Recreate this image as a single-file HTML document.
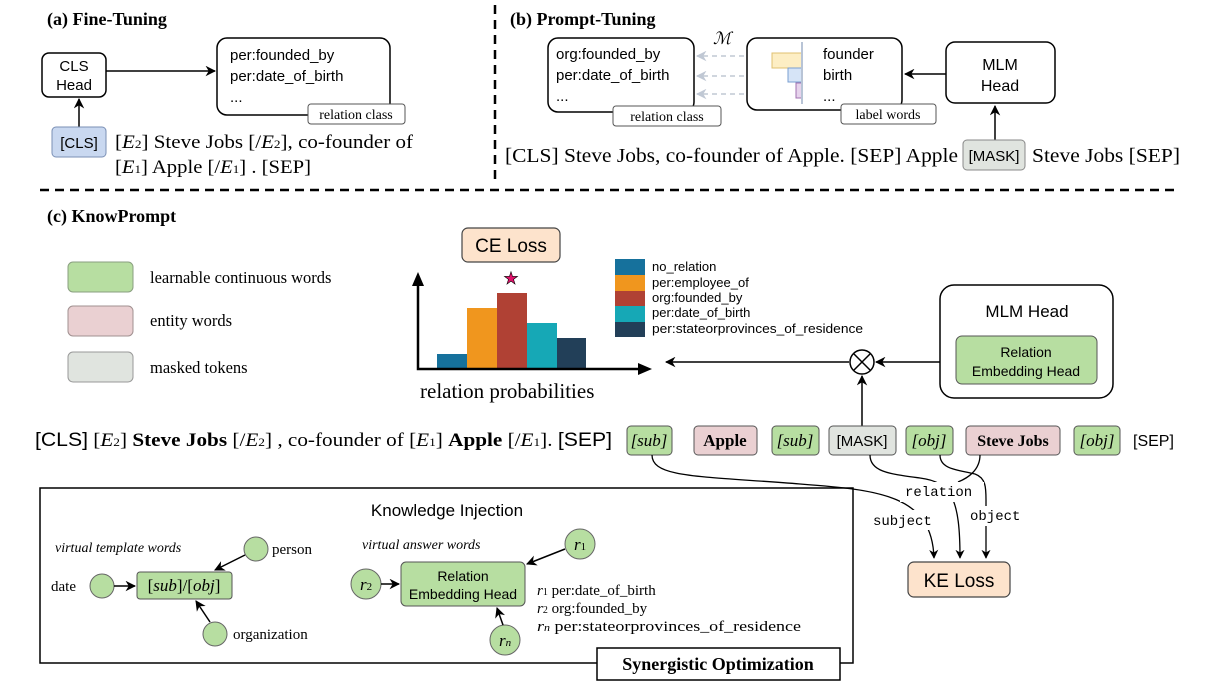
<!DOCTYPE html>
<html><head><meta charset="utf-8"><style>
body{margin:0;background:#fff}
svg{display:block}
.s{font-family:"Liberation Serif",serif}
.a{font-family:"Liberation Sans",sans-serif}
.m{font-family:"Liberation Mono",monospace}
</style></head><body>
<svg width="1206" height="694" viewBox="0 0 1206 694" xmlns="http://www.w3.org/2000/svg">
<defs>
<marker id="ar" viewBox="0 0 10 10" refX="9" refY="5" markerWidth="7" markerHeight="7" orient="auto"><path d="M0,0L10,5L0,10L3,5z" fill="#000"/></marker>
<marker id="ag" viewBox="0 0 10 10" refX="9" refY="5" markerWidth="7" markerHeight="7" orient="auto"><path d="M0,0L10,5L0,10L3,5z" fill="#c0c8d4"/></marker>
</defs>
<line x1="495" y1="5" x2="495" y2="182" stroke="#000" stroke-width="2.5" stroke-dasharray="9,6"/>
<line x1="40" y1="190" x2="1178" y2="190" stroke="#000" stroke-width="2.5" stroke-dasharray="9,6"/>

<!-- (a) -->
<text x="47" y="25" class="s" font-size="18" font-weight="bold">(a) Fine-Tuning</text>
<rect x="42" y="53" width="64" height="44" rx="7" fill="#fff" stroke="#000" stroke-width="1.5"/>
<text x="74" y="71" class="a" font-size="15" text-anchor="middle">CLS</text>
<text x="74" y="90" class="a" font-size="15" text-anchor="middle">Head</text>
<line x1="106" y1="71" x2="215" y2="71" stroke="#000" stroke-width="1.5" marker-end="url(#ar)"/>
<line x1="79" y1="127" x2="79" y2="99" stroke="#000" stroke-width="1.5" marker-end="url(#ar)"/>
<rect x="217" y="38" width="173" height="77" rx="10" fill="#fff" stroke="#000" stroke-width="1.5"/>
<text x="230" y="60" class="a" font-size="15">per:founded_by</text>
<text x="230" y="81" class="a" font-size="15">per:date_of_birth</text>
<text x="230" y="102" class="a" font-size="15">...</text>
<rect x="308" y="104" width="97" height="20" rx="3" fill="#fff" stroke="#555"/>
<text x="356" y="119" class="s" font-size="14" text-anchor="middle">relation class</text>
<rect x="52" y="127" width="54" height="30" rx="4" fill="#c9d8f0" stroke="#7a8fb5"/>
<text x="79" y="148" class="a" font-size="15" text-anchor="middle">[CLS]</text>
<text x="115" y="148" class="s" font-size="19" textLength="298" lengthAdjust="spacingAndGlyphs">[<tspan font-style="italic">E</tspan><tspan font-size="12">2</tspan>] Steve Jobs [/<tspan font-style="italic">E</tspan><tspan font-size="12">2</tspan>], co-founder of</text>
<text x="115" y="173" class="s" font-size="19" textLength="196" lengthAdjust="spacingAndGlyphs">[<tspan font-style="italic">E</tspan><tspan font-size="12">1</tspan>] Apple [/<tspan font-style="italic">E</tspan><tspan font-size="12">1</tspan>] . [SEP]</text>

<!-- (b) -->
<text x="510" y="25" class="s" font-size="18" font-weight="bold">(b) Prompt-Tuning</text>
<rect x="548" y="38" width="146" height="74" rx="10" fill="#fff" stroke="#000" stroke-width="1.5"/>
<text x="556" y="59" class="a" font-size="15">org:founded_by</text>
<text x="556" y="80" class="a" font-size="15">per:date_of_birth</text>
<text x="556" y="101" class="a" font-size="15">...</text>
<rect x="613" y="106" width="108" height="20" rx="3" fill="#fff" stroke="#555"/>
<text x="667" y="121" class="s" font-size="14" text-anchor="middle">relation class</text>
<text x="713" y="44" class="s" font-size="17" font-style="italic">ℳ</text>
<g stroke="#c0c8d4" stroke-width="1.5" stroke-dasharray="5,4">
<line x1="762" y1="56" x2="697" y2="56" marker-end="url(#ag)"/>
<line x1="762" y1="76" x2="697" y2="76" marker-end="url(#ag)"/>
<line x1="762" y1="94" x2="697" y2="94" marker-end="url(#ag)"/>
</g>
<rect x="747" y="38" width="155" height="72" rx="10" fill="#fff" stroke="#000" stroke-width="1.5"/>
<rect x="772" y="53" width="30" height="15" fill="#fdeec4" stroke="#e0c070"/>
<rect x="788" y="68" width="14" height="14" fill="#d6e4f7" stroke="#7a9fd0"/>
<rect x="796" y="83" width="6" height="15" fill="#e6d3ec" stroke="#a070b0"/>
<line x1="802" y1="42" x2="802" y2="104" stroke="#b8c4d6" stroke-width="2"/>
<text x="823" y="59" class="a" font-size="15">founder</text>
<text x="823" y="80" class="a" font-size="15">birth</text>
<text x="823" y="101" class="a" font-size="15">...</text>
<rect x="841" y="104" width="95" height="20" rx="3" fill="#fff" stroke="#555"/>
<text x="888" y="119" class="s" font-size="14" text-anchor="middle">label words</text>
<rect x="946" y="42" width="109" height="61" rx="9" fill="#fff" stroke="#000" stroke-width="1.5"/>
<text x="1000" y="70" class="a" font-size="16" text-anchor="middle">MLM</text>
<text x="1000" y="91" class="a" font-size="16" text-anchor="middle">Head</text>
<line x1="946" y1="74" x2="905" y2="74" stroke="#000" stroke-width="1.5" marker-end="url(#ar)"/>
<line x1="995" y1="140" x2="995" y2="106" stroke="#000" stroke-width="1.5" marker-end="url(#ar)"/>
<rect x="963" y="140" width="62" height="30" rx="4" fill="#e0e4df" stroke="#888"/>
<text x="994" y="161" class="a" font-size="15" text-anchor="middle">[MASK]</text>
<text x="505" y="162" class="s" font-size="20" textLength="453" lengthAdjust="spacingAndGlyphs">[CLS] Steve Jobs, co-founder of Apple. [SEP] Apple</text>
<text x="1032" y="162" class="s" font-size="20" textLength="148" lengthAdjust="spacingAndGlyphs">Steve Jobs [SEP]</text>

<!-- (c) -->
<text x="47" y="222" class="s" font-size="18" font-weight="bold">(c) KnowPrompt</text>
<rect x="68" y="262" width="65" height="30" rx="5" fill="#b7dea1" stroke="#8a9f80"/>
<rect x="68" y="306" width="65" height="30" rx="5" fill="#ead0d2" stroke="#a09090"/>
<rect x="68" y="352" width="65" height="30" rx="5" fill="#e0e4df" stroke="#999"/>
<text x="150" y="283" class="s" font-size="16.5">learnable continuous words</text>
<text x="150" y="326" class="s" font-size="16.5">entity words</text>
<text x="150" y="373" class="s" font-size="16.5">masked tokens</text>

<rect x="462" y="228" width="98" height="34" rx="6" fill="#fde3cc" stroke="#444" stroke-width="1.2"/>
<text x="511" y="252" class="a" font-size="19" text-anchor="middle">CE Loss</text>
<rect x="437" y="354" width="30" height="15" fill="#16719c"/>
<rect x="467" y="308" width="30" height="61" fill="#f0961e"/>
<rect x="497" y="293" width="30" height="76" fill="#b04134"/>
<rect x="527" y="323" width="30" height="46" fill="#16a8b6"/>
<rect x="557" y="338" width="29" height="31" fill="#223f58"/>
<polyline points="418,280 418,369 640,369" fill="none" stroke="#000" stroke-width="2.5"/>
<path d="M412,286 L418,272 L424,286z M638,363 L652,369 L638,375z"/>
<text x="511" y="284" font-size="17" text-anchor="middle" fill="#e0116a" stroke="#000" stroke-width="0.6">★</text>
<rect x="615" y="259" width="30" height="16" fill="#16719c"/>
<rect x="615" y="275" width="30" height="16" fill="#f0961e"/>
<rect x="615" y="291" width="30" height="15" fill="#b04134"/>
<rect x="615" y="306" width="30" height="16" fill="#16a8b6"/>
<rect x="615" y="322" width="30" height="15" fill="#223f58"/>
<g class="a" font-size="13">
<text x="652" y="271">no_relation</text><text x="652" y="287">per:employee_of</text><text x="652" y="302">org:founded_by</text><text x="652" y="317">per:date_of_birth</text><text x="652" y="333" textLength="211" lengthAdjust="spacingAndGlyphs">per:stateorprovinces_of_residence</text>
</g>
<text x="420" y="398" class="s" font-size="21">relation probabilities</text>

<rect x="940" y="285" width="173" height="113" rx="14" fill="#fff" stroke="#000" stroke-width="1.5"/>
<text x="1027" y="317" class="a" font-size="17" text-anchor="middle">MLM Head</text>
<rect x="956" y="336" width="141" height="48" rx="6" fill="#b7dea1" stroke="#555"/>
<text x="1026" y="357" class="a" font-size="14" text-anchor="middle">Relation</text>
<text x="1026" y="376" class="a" font-size="14" text-anchor="middle">Embedding Head</text>
<circle cx="862" cy="362" r="12" fill="#fff" stroke="#000" stroke-width="1.5"/>
<path d="M854,354L870,370M870,354L854,370" stroke="#000" stroke-width="1.5"/>
<line x1="940" y1="362" x2="876" y2="362" stroke="#000" stroke-width="1.5" marker-end="url(#ar)"/>
<line x1="849" y1="362" x2="666" y2="362" stroke="#000" stroke-width="1.5" marker-end="url(#ar)"/>
<line x1="862" y1="426" x2="862" y2="376" stroke="#000" stroke-width="1.5" marker-end="url(#ar)"/>

<text x="35" y="446" class="s" font-size="19" textLength="577" lengthAdjust="spacingAndGlyphs"><tspan class="a">[CLS]</tspan> [<tspan font-style="italic">E</tspan><tspan font-size="12">2</tspan>] <tspan font-weight="bold">Steve Jobs</tspan> [/<tspan font-style="italic">E</tspan><tspan font-size="12">2</tspan>] , co-founder of  [<tspan font-style="italic">E</tspan><tspan font-size="12">1</tspan>] <tspan font-weight="bold">Apple</tspan> [/<tspan font-style="italic">E</tspan><tspan font-size="12">1</tspan>]. <tspan class="a">[SEP]</tspan></text>
<g stroke="#555">
<rect x="627" y="426" width="45" height="29" rx="4" fill="#b7dea1"/>
<rect x="694" y="426" width="63" height="29" rx="4" fill="#ead0d2"/>
<rect x="772" y="426" width="47" height="29" rx="4" fill="#b7dea1"/>
<rect x="829" y="426" width="67" height="29" rx="4" fill="#e0e4df"/>
<rect x="906" y="426" width="47" height="29" rx="4" fill="#b7dea1"/>
<rect x="966" y="426" width="94" height="29" rx="4" fill="#ead0d2"/>
<rect x="1074" y="426" width="46" height="29" rx="4" fill="#b7dea1"/>
</g>
<g class="s" font-size="17" text-anchor="middle">
<text x="649" y="446" font-style="italic">[sub]</text>
<text x="725" y="446" font-weight="bold">Apple</text>
<text x="795" y="446" font-style="italic">[sub]</text>
<text x="862" y="446" class="a" font-size="15">[MASK]</text>
<text x="929" y="446" font-style="italic">[obj]</text>
<text x="1013" y="446" font-weight="bold" font-size="16">Steve Jobs</text>
<text x="1097" y="446" font-style="italic">[obj]</text>
</g>
<text x="1133" y="446" class="a" font-size="16">[SEP]</text>

<!-- Knowledge injection box (drawn before curves) -->
<rect x="40" y="488" width="813" height="175" fill="#fff" stroke="#000" stroke-width="1.5"/>

<g fill="none" stroke="#000" stroke-width="1.3">
<path d="M652,455 C652,478 700,476 800,484 C880,490 932,495 934,558" marker-end="url(#ar)"/>
<path d="M870,455 C870,472 890,474 920,478 C952,482 960,500 960,558" marker-end="url(#ar)"/>
<path d="M940,455 C940,470 960,470 975,474 C986,478 986,488 986,500 L986,558" marker-end="url(#ar)"/>
<path d="M980,455 C980,470 968,478 958,482"/>
</g>
<rect x="868" y="510" width="80" height="20" fill="#fff"/>
<rect x="900" y="482" width="84" height="20" fill="#fff"/>
<rect x="966" y="506" width="66" height="20" fill="#fff"/>
<text x="873" y="525" class="m" font-size="14">subject</text>
<text x="905" y="496" class="m" font-size="14">relation</text>
<text x="970" y="520" class="m" font-size="14">object</text>
<rect x="908" y="562" width="102" height="35" rx="6" fill="#fde3cc" stroke="#444" stroke-width="1.2"/>
<text x="959" y="587" class="a" font-size="19" text-anchor="middle">KE Loss</text>

<text x="447" y="516" class="a" font-size="17" text-anchor="middle">Knowledge Injection</text>
<text x="55" y="552" class="s" font-size="14" font-style="italic">virtual template words</text>
<text x="362" y="549" class="s" font-size="14" font-style="italic">virtual answer words</text>
<g fill="#b7dea1" stroke="#666">
<circle cx="256" cy="549" r="12"/><circle cx="102" cy="586" r="12"/><circle cx="215" cy="634" r="12"/>
<circle cx="580" cy="544" r="15"/><circle cx="366" cy="584" r="15"/><circle cx="505" cy="640" r="15"/>
</g>
<rect x="137" y="572" width="95" height="27" rx="3" fill="#b7dea1" stroke="#555"/>
<text x="184" y="591" class="s" font-size="17" text-anchor="middle">[<tspan font-style="italic">sub</tspan>]/[<tspan font-style="italic">obj</tspan>]</text>
<text x="51" y="591" class="s" font-size="15">date</text>
<text x="272" y="554" class="s" font-size="15">person</text>
<text x="233" y="639" class="s" font-size="15">organization</text>
<g stroke="#000" stroke-width="1.5" fill="none">
<line x1="114" y1="586" x2="135" y2="586" marker-end="url(#ar)"/>
<line x1="245" y1="555" x2="215" y2="570" marker-end="url(#ar)"/>
<line x1="210" y1="622" x2="196" y2="601" marker-end="url(#ar)"/>
<line x1="565" y1="549" x2="527" y2="564" marker-end="url(#ar)"/>
<line x1="381" y1="584" x2="399" y2="584" marker-end="url(#ar)"/>
<line x1="503" y1="625" x2="497" y2="608" marker-end="url(#ar)"/>
</g>
<rect x="401" y="562" width="124" height="44" rx="5" fill="#b7dea1" stroke="#555"/>
<text x="463" y="581" class="a" font-size="14" text-anchor="middle">Relation</text>
<text x="463" y="599" class="a" font-size="14" text-anchor="middle">Embedding Head</text>
<g class="s" font-style="italic" font-size="17" text-anchor="middle">
<text x="580" y="550">r<tspan font-size="11" font-style="normal">1</tspan></text>
<text x="366" y="590">r<tspan font-size="11" font-style="normal">2</tspan></text>
<text x="505" y="646">r<tspan font-size="11" font-style="italic">n</tspan></text>
</g>
<g class="s" font-size="15">
<text x="537" y="595"><tspan font-style="italic">r</tspan><tspan font-size="10">1</tspan> per:date_of_birth</text>
<text x="537" y="613"><tspan font-style="italic">r</tspan><tspan font-size="10">2</tspan> org:founded_by</text>
<text x="537" y="631" textLength="264" lengthAdjust="spacingAndGlyphs"><tspan font-style="italic">r</tspan><tspan font-size="10" font-style="italic">n</tspan> per:stateorprovinces_of_residence</text>
</g>
<rect x="597" y="648" width="243" height="32" fill="#fff" stroke="#000" stroke-width="1.5"/>
<text x="718" y="670" class="s" font-size="18" font-weight="bold" text-anchor="middle">Synergistic Optimization</text>
</svg>
</body></html>
